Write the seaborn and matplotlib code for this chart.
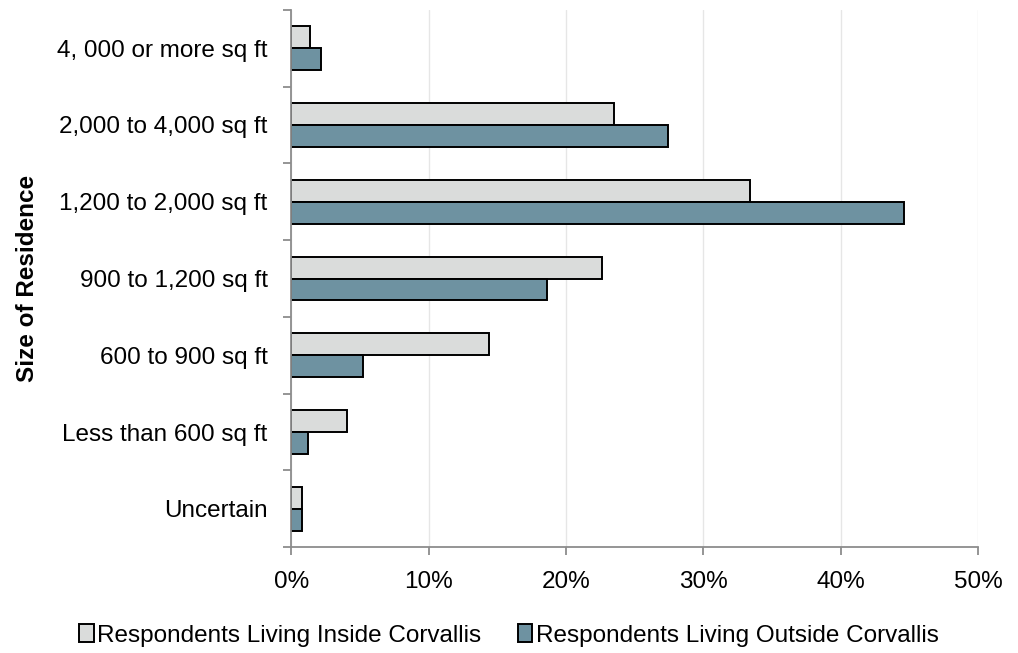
import pandas as pd
import numpy as np
import seaborn as sns
import matplotlib.pyplot as plt
from matplotlib.ticker import FixedLocator, FuncFormatter

# categories top to bottom
sizes = ["4, 000 or more sq ft", "2,000 to 4,000 sq ft", "1,200 to 2,000 sq ft",
         "900 to 1,200 sq ft", "600 to 900 sq ft", "Less than 600 sq ft", "Uncertain"]
inside = [1.4, 23.5, 33.4, 22.6, 14.4, 4.1, 0.8]
outside = [2.2, 27.4, 44.6, 18.6, 5.2, 1.2, 0.8]
groups = ["Respondents Living Inside Corvallis", "Respondents Living Outside Corvallis"]

df = pd.DataFrame({
    "size": sizes * 2,
    "pct": inside + outside,
    "group": [groups[0]] * len(sizes) + [groups[1]] * len(sizes),
})

sns.set_style("white")
plt.rcParams['font.family'] = ['Liberation Sans', 'DejaVu Sans']
plt.rcParams['text.color'] = 'black'
plt.rcParams['xtick.color'] = 'black'
plt.rcParams['ytick.color'] = 'black'
plt.rcParams['axes.labelcolor'] = 'black'
fs = 17.5

fig = plt.figure(figsize=(10.18, 6.53), dpi=100)
ax = fig.add_axes([0.286, 0.162, 0.675, 0.823])

sns.barplot(data=df, x="pct", y="size", hue="group", order=sizes, hue_order=groups,
            palette=["#DADCDB", "#6E92A1"], orient="h", width=0.57,
            edgecolor="black", linewidth=1.4, saturation=1, ax=ax)

ax.set_xlim(0, 50)
ax.set_ylim(len(sizes) - 0.5, -0.5)
ax.xaxis.set_major_locator(FixedLocator([0, 10, 20, 30, 40, 50]))
ax.xaxis.set_major_formatter(FuncFormatter(lambda v, p: f"{v:.0f}%"))
ax.grid(axis="x", color="#E6E6E6", linewidth=1)
ax.set_axisbelow(True)

ax.yaxis.set_minor_locator(FixedLocator(np.arange(-0.5, len(sizes), 1)))
ax.tick_params(axis="y", which="major", left=True, length=0, pad=17, labelsize=fs,
               labelcolor="black")
ax.tick_params(axis="y", which="minor", left=True, length=6, width=1.3, color="#8C8C8C")
ax.tick_params(axis="x", which="major", bottom=True, length=6, width=1.3, color="#8C8C8C",
               labelsize=fs, pad=11, labelcolor="black")

for s in ["top", "right"]:
    ax.spines[s].set_visible(False)
for s in ["left", "bottom"]:
    ax.spines[s].set_color("#8C8C8C")
    ax.spines[s].set_linewidth(1.3)

ax.set_xlabel("")
ax.set_ylabel("Size of Residence", fontsize=fs, fontweight="bold")
ax.yaxis.set_label_coords(-0.367, 0.5)

handles, labels = ax.get_legend_handles_labels()
ax.get_legend().remove()
fig.legend(handles, labels, loc="center", bbox_to_anchor=(0.5, 0.027), ncol=2,
           frameon=False, fontsize=fs, handlelength=0.6, handleheight=0.75,
           handletextpad=0.15, columnspacing=1.5)

fig.savefig("out.png", dpi=100)
